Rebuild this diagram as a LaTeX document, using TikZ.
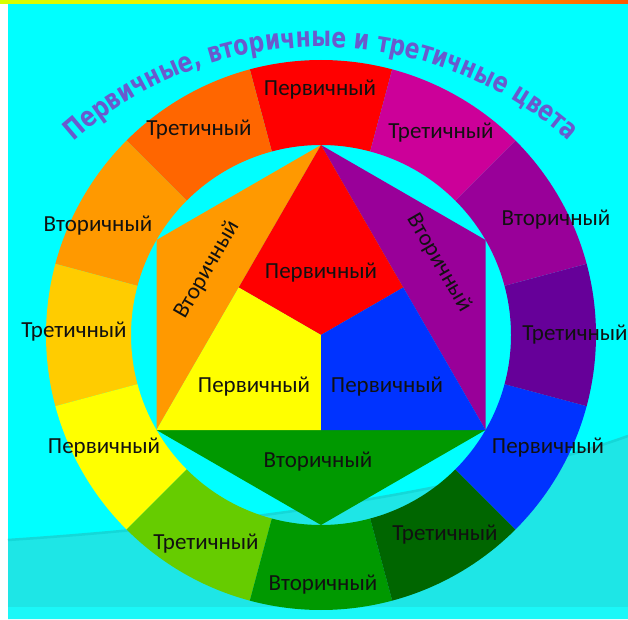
\documentclass[tikz,border=0pt]{standalone}
\usepackage{fontspec}
\setmainfont{Carlito}
\newfontfamily\titlefont{DejaVu Sans}[FakeStretch=0.78]
\usetikzlibrary{decorations.text}
\definecolor{bgcyan}{HTML}{00FFFF}
\definecolor{lowcyan}{HTML}{1EE6E6}
\definecolor{bandcyan}{HTML}{14D8D8}
\definecolor{botcyan}{HTML}{1AF8F8}
\definecolor{titleblue}{HTML}{6A5ACD}
\definecolor{cR}{HTML}{FF0000}
\definecolor{cRO}{HTML}{FF6600}
\definecolor{cO}{HTML}{FF9900}
\definecolor{cYO}{HTML}{FFCC00}
\definecolor{cY}{HTML}{FFFF00}
\definecolor{cYG}{HTML}{66CC00}
\definecolor{cG}{HTML}{009900}
\definecolor{cDG}{HTML}{006600}
\definecolor{cB}{HTML}{0033FF}
\definecolor{cV}{HTML}{660099}
\definecolor{cP}{HTML}{990099}
\definecolor{cM}{HTML}{CC0099}
\definecolor{lbltext}{HTML}{111111}
\begin{document}
\begin{tikzpicture}[x=1pt,y=1pt,
  lbl/.style={font=\fontsize{23}{27}\selectfont, text=lbltext, inner sep=0pt}]
\useasboundingbox (0,0) rectangle (628,619);
% background
\fill[white] (0,0) rectangle (628,619);
\fill[bgcyan] (8,0) rectangle (628,615);
\shade[left color=yellow!85!green, right color=orange!70!red, middle color=yellow!80!orange] (0,615) rectangle (628,619);
\fill[lowcyan] (8,0) -- (8,79) .. controls (250,95) and (480,130) .. (628,183) -- (628,0) -- cycle;
\draw[bandcyan, line width=2.5pt] (8,79) .. controls (250,95) and (480,130) .. (628,183);
\fill[botcyan] (8,0) rectangle (628,12);
% title
\path[decorate, decoration={text along path, text align=center,
  text={|\titlefont\bfseries\fontsize{28}{32}\selectfont\color{titleblue}|Первичные, вторичные и третичные цвета}}]
  ([shift={(321,199.4)}]140:372.6) arc[start angle=140, end angle=40, radius=372.6];
% outer ring
\foreach \a/\c in {90/cR,120/cRO,150/cO,180/cYO,210/cY,240/cYG,270/cG,300/cDG,330/cB,0/cV,30/cP,60/cM}{
  \pgfmathsetmacro{\s}{\a-15}
  \pgfmathsetmacro{\e}{\a+15}
  \fill[\c, shift={(321,284)}] (\s:275) arc[start angle=\s, end angle=\e, radius=275]
     -- (\e:190) arc[start angle=\e, end angle=\s, radius=190] -- cycle;
}
% hexagon
\coordinate (T) at (321,474);
\coordinate (UL) at (156.5,379);
\coordinate (LL) at (156.5,189);
\coordinate (Bo) at (321,94);
\coordinate (LR) at (485.5,189);
\coordinate (UR) at (485.5,379);
\coordinate (G) at (321,284);
\coordinate (ML) at (238.75,331.5);
\coordinate (MR) at (403.25,331.5);
\coordinate (MB) at (321,189);
\fill[cO] (T) -- (UL) -- (LL) -- cycle;
\fill[cP] (T) -- (UR) -- (LR) -- cycle;
\fill[cG] (LL) -- (LR) -- (Bo) -- cycle;
\fill[cR] (T) -- (ML) -- (G) -- (MR) -- cycle;
\fill[cY] (ML) -- (LL) -- (MB) -- (G) -- cycle;
\fill[cB] (MR) -- (LR) -- (MB) -- (G) -- cycle;
% ring labels
\node[lbl] (r1) at (320,529) {Первичный};
\node[lbl] (r2) at (199,489) {Третичный};
\node[lbl] (r3) at (98,393) {Вторичный};
\node[lbl] (r4) at (74,287) {Третичный};
\node[lbl] (r5) at (104,171) {Первичный};
\node[lbl] (r6) at (206,75) {Третичный};
\node[lbl] (r7) at (323,34) {Вторичный};
\node[lbl] (r8) at (445,84) {Третичный};
\node[lbl] (r9) at (548,171) {Первичный};
\node[lbl] (r10) at (575,284) {Третичный};
\node[lbl] (r11) at (556,399) {Вторичный};
\node[lbl] (r12) at (441,486) {Третичный};
% inner labels
\node[lbl] (i1) at (321,346) {Первичный};
\node[lbl] (i2) at (254,232) {Первичный};
\node[lbl] (i3) at (387,232) {Первичный};
\node[lbl, rotate=60] (i4) at (207,349) {Вторичный};
\node[lbl, rotate=-60] (i5) at (439,356) {Вторичный};
\node[lbl] (i6) at (318,157) {Вторичный};
\end{tikzpicture}
\end{document}
